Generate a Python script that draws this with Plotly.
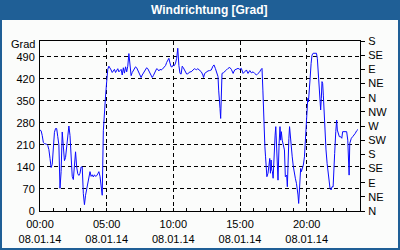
import pandas as pd
import plotly.graph_objects as go

# minutes after 08.01.14 00:00
minutes = [0, 5, 10, 15, 20, 25, 30, 35, 40, 45, 50, 55, 60, 65, 70, 75, 80, 85, 90, 95,
           100, 105, 110, 115, 120, 125, 130, 135, 140, 145, 150, 155, 160, 165, 170, 175, 180, 185, 190, 195,
           200, 205, 210, 215, 220, 225, 230, 235, 240, 245, 250, 255, 260, 265, 270, 275, 280, 285, 290, 295,
           300, 305, 310, 315, 320, 325, 330, 335, 340, 345, 350, 355, 360,
           365, 370, 375, 380, 385, 390, 395, 400, 405, 410, 415, 420, 425, 430, 435, 440, 445, 450,
           455, 460, 465, 470, 475, 480, 485, 490, 495, 500, 505, 510, 515, 520, 525, 530, 535, 540,
           545, 550, 555, 560, 565, 570, 575, 580, 585, 590, 595, 600, 605, 610, 615, 620, 625, 630,
           635, 640, 645, 650, 655, 660, 665, 670, 675, 680, 685, 690, 695, 700, 705, 710,
           718, 726, 733, 736, 741, 748, 756, 763, 771, 778, 783, 789, 795, 801, 804, 807, 810, 813,
           816, 819, 825, 831, 839, 846, 854, 861, 869, 876, 884, 891, 899, 906, 914, 921, 929, 936,
           944, 951, 959, 966, 974, 981, 989, 993, 999, 1003, 1006, 1009, 1012, 1015, 1018, 1021,
           1026, 1031, 1034, 1037, 1040, 1043, 1046, 1049, 1052, 1055, 1058, 1061, 1064, 1067,
           1071, 1076, 1080, 1083, 1086, 1090, 1095, 1100, 1104, 1110, 1113, 1116, 1120, 1123, 1126,
           1131, 1135, 1140, 1145, 1149, 1154, 1158, 1161, 1164, 1167, 1170, 1173, 1176, 1181, 1185,
           1190, 1194, 1199, 1202, 1205, 1208, 1211, 1215, 1220, 1224, 1229, 1236, 1244, 1248, 1251,
           1254, 1259, 1263, 1266, 1269, 1272, 1275, 1278, 1283, 1287, 1292, 1296, 1301, 1305, 1310,
           1314, 1319, 1323, 1326, 1331, 1335, 1338, 1343, 1347, 1353, 1358, 1362, 1368, 1374, 1380,
           1385, 1388, 1391, 1394, 1397, 1401, 1407, 1413, 1419, 1425, 1431]

direction = [257, 255, 240, 218, 214, 213, 212, 208, 195, 167, 138, 148, 225, 250, 262, 262, 236, 210, 72, 125,
             251, 200, 160, 170, 200, 225, 270, 240, 160, 110, 100, 160, 188, 140, 118, 113, 120, 140, 140, 55,
             20, 50, 70, 95, 115, 125, 110, 115, 108, 115, 110, 112, 118, 125, 110, 75, 50, 255, 330, 365,
             410, 450, 460, 455, 448, 440, 445, 450, 440, 446, 452, 442, 448,
             450, 432, 455, 438, 458, 442, 460, 500, 460, 430, 440, 445, 450, 458, 455, 448, 438, 430,
             424, 432, 438, 445, 452, 455, 452, 445, 440, 432, 424, 430, 438, 445, 452, 450, 445, 450,
             448, 450, 455, 458, 462, 472, 480, 485, 470, 458, 458, 464, 462, 470, 485, 517, 462, 437,
             435, 460, 455, 448, 440, 435, 436, 440, 442, 442, 446, 448, 452, 450, 449, 452,
             448, 442, 432, 424, 437, 442, 445, 446, 448, 460, 464, 453, 437, 427, 384, 331, 326, 294,
             395, 437, 439, 442, 448, 453, 456, 450, 437, 448, 450, 453, 450, 453, 437, 442, 448, 437,
             446, 439, 442, 437, 432, 437, 442, 448, 453, 384, 289, 215, 204, 172, 135, 109,
             120, 141, 167, 120, 162, 130, 125, 104, 172, 215, 241, 268, 225, 172,
             98, 215, 268, 225, 252, 225, 204, 194, 109, 114, 77, 178, 231, 268, 236,
             204, 172, 141, 109, 104, 88, 72, 51, 24, 56, 77, 135, 125, 135, 146,
             172, 215, 278, 331, 358, 347, 368, 416, 469, 495, 501, 501, 501, 485, 448,
             395, 342, 321, 358, 411, 405, 368, 315, 257, 194, 151, 120, 88, 72, 67,
             77, 77, 120, 183, 252, 289, 257, 241, 236, 236, 231, 252, 252, 252, 252,
             225, 141, 114, 215, 225, 231, 236, 241, 247, 255, 259]

left_ticks = [0, 70, 140, 210, 280, 350, 420, 490]
compass_vals = [0, 45, 90, 135, 180, 225, 270, 315, 360, 405, 450, 495, 540]
compass_text = ["N", "NE", "E", "SE", "S", "SW", "W", "NW", "N", "NE", "E", "SE", "S"]
x_tick_hours = [0, 5, 10, 15, 20]
day = "2014-01-08"
day_label = "08.01.14"

start = pd.Timestamp(day)
times = [start + pd.Timedelta(minutes=m) for m in minutes]
tickvals = [start + pd.Timedelta(hours=h) for h in x_tick_hours]
ticktext = [f"{h:02d}:00<br>{day_label}" for h in x_tick_hours]

BLUE = "#1f5f96"
FONT = "Liberation Sans"

fig = go.Figure()
fig.add_trace(go.Scatter(x=times, y=direction, mode="lines",
                         line=dict(color="#0a0aff", width=1), hoverinfo="skip"))
# invisible trace to activate right axis
fig.add_trace(go.Scatter(x=[times[0]], y=[0], yaxis="y2", mode="lines",
                         line=dict(width=0), showlegend=False, hoverinfo="skip"))

L, R, T, B = 40, 40, 41, 39
W, H = 400, 250
pw, ph = W - L - R, H - T - B

def px(x):
    return (x - L) / pw

def py(y):
    return (H - B - y) / ph

fig.update_layout(
    width=W, height=H,
    margin=dict(l=L, r=R, t=T, b=B, pad=0, autoexpand=False),
    paper_bgcolor=BLUE,
    plot_bgcolor="rgba(0,0,0,0)",
    showlegend=False,
    font=dict(family=FONT, size=11, color="black"),
    xaxis=dict(
        type="date",
        range=[start, start + pd.Timedelta(hours=24)],
        tickvals=tickvals, ticktext=ticktext,
        ticks="inside", ticklen=3, tickcolor="black",
        showgrid=True, gridcolor="black", griddash="4px,3px", gridwidth=1,
        showline=True, linecolor="black", linewidth=1, mirror=True,
        zeroline=False, automargin=False,
        ticklabelstandoff=3,
        minor=dict(dtick=3600000, tick0=start, ticks="inside", ticklen=3,
                   tickcolor="black", showgrid=False),
        tickfont=dict(family=FONT, size=11, color="black"),
        fixedrange=True,
    ),
    yaxis=dict(
        range=[0, 540],
        tickvals=left_ticks,
        ticks="", showgrid=True, gridcolor="black", griddash="4px,3px", gridwidth=1,
        showline=True, linecolor="black", linewidth=1, mirror=True,
        zeroline=False, automargin=False,
        ticklabelstandoff=2,
        tickfont=dict(family=FONT, size=11, color="black"),
        fixedrange=True,
    ),
    yaxis2=dict(
        range=[0, 540], overlaying="y", side="right",
        tickvals=compass_vals, ticktext=compass_text,
        ticks="outside", ticklen=4, tickcolor="black",
        showgrid=False, showline=False, zeroline=False, automargin=False,
        ticklabelstandoff=1,
        tickfont=dict(family=FONT, size=11, color="black"),
        fixedrange=True,
    ),
    shapes=[dict(type="rect", xref="paper", yref="paper", layer="below",
                 x0=px(2), x1=px(398), y0=py(248), y1=py(20),
                 fillcolor="#fbfcfb", line=dict(width=0))],
    annotations=[
        dict(text="<b>Windrichtung [Grad]</b>", xref="paper", yref="paper",
             x=px(209), y=py(10), xanchor="center", yanchor="middle", showarrow=False,
             font=dict(family=FONT, size=12, color="white")),
        dict(text="Grad", xref="paper", yref="paper",
             x=px(37), y=py(44), xanchor="right", yanchor="middle", showarrow=False,
             font=dict(family=FONT, size=11, color="black")),
    ],
)

fig.write_html("out.html")
